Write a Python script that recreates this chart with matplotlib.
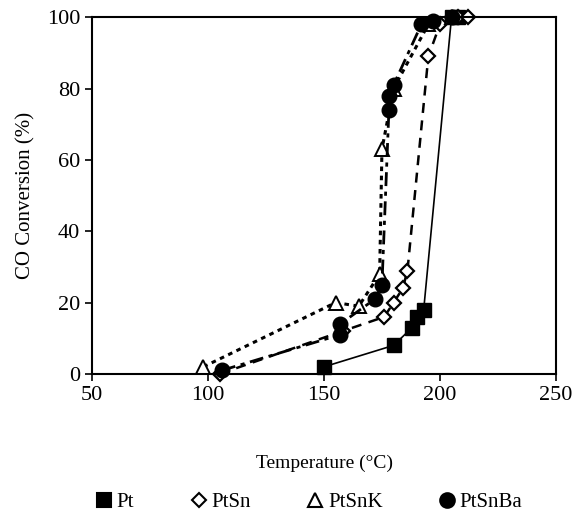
import matplotlib
matplotlib.use('Agg')
import matplotlib.pyplot as plt

plt.rcParams['font.family'] = ['Liberation Serif', 'DejaVu Serif']

# Данные: температура (°C) и конверсия CO (%)
pt_t = [150, 180, 188, 190, 193, 205, 208]
pt_c = [2, 8, 13, 16, 18, 100, 100]

ptsn_t = [105, 158, 176, 180, 184, 186, 195, 200, 208, 212]
ptsn_c = [0, 12, 16, 20, 24, 29, 89, 98, 100, 100]

ptsnk_t = [98, 155, 165, 174, 175, 180, 195, 205]
ptsnk_c = [2, 20, 19, 28, 63, 80, 98, 100]

ptsnba_t = [106, 157, 157, 172, 175, 178, 178, 180, 192, 197, 205]
ptsnba_c = [1, 11, 14, 21, 25, 74, 78, 81, 98, 99, 100]

fig = plt.figure(figsize=(5.76, 5.23), dpi=100)
ax = fig.add_axes([0.160, 0.285, 0.805, 0.682])

ax.plot(pt_t, pt_c, color='black', linestyle='-', linewidth=1.2,
        marker='s', markersize=10, markerfacecolor='black', label='Pt', clip_on=False)
ax.plot(ptsn_t, ptsn_c, color='black', linestyle=(0, (4, 3)), linewidth=1.8,
        marker='D', markersize=7.5, markerfacecolor='white', markeredgewidth=1.6,
        label='PtSn', clip_on=False)
ax.plot(ptsnk_t, ptsnk_c, color='black', linestyle=(0, (1.5, 1.5)), linewidth=2.2,
        marker='^', markersize=10.5, markerfacecolor='white', markeredgewidth=1.4,
        label='PtSnK', clip_on=False)
ax.plot(ptsnba_t, ptsnba_c, color='black', linestyle=(0, (5, 2, 1.5, 2)), linewidth=2.0,
        marker='o', markersize=10.5, markerfacecolor='black', label='PtSnBa', clip_on=False)

ax.set_xlim(50, 250)
ax.set_ylim(0, 100)
ax.set_xticks([50, 100, 150, 200, 250])
ax.set_yticks([0, 20, 40, 60, 80, 100])
ax.tick_params(direction='out', length=5, width=1.2, labelsize=16)
for s in ax.spines.values():
    s.set_linewidth(1.5)

ax.set_xlabel('Temperature (°C)', fontsize=14, labelpad=36)
ax.set_ylabel('CO Conversion (%)', fontsize=15, labelpad=8)

h, l = ax.get_legend_handles_labels()
leg_h = []
for line in h:
    nl = matplotlib.lines.Line2D([], [], linestyle='none', marker=line.get_marker(),
                                 markersize=line.get_markersize(),
                                 markerfacecolor=line.get_markerfacecolor(),
                                 markeredgecolor='black', markeredgewidth=1.5)
    leg_h.append(nl)
fig.legend(leg_h, l, loc='center', bbox_to_anchor=(0.535, 0.04), ncol=4,
           frameon=False, fontsize=15, handletextpad=0.1, columnspacing=2.6,
           handlelength=1.0)

plt.savefig('out.png', dpi=100)
